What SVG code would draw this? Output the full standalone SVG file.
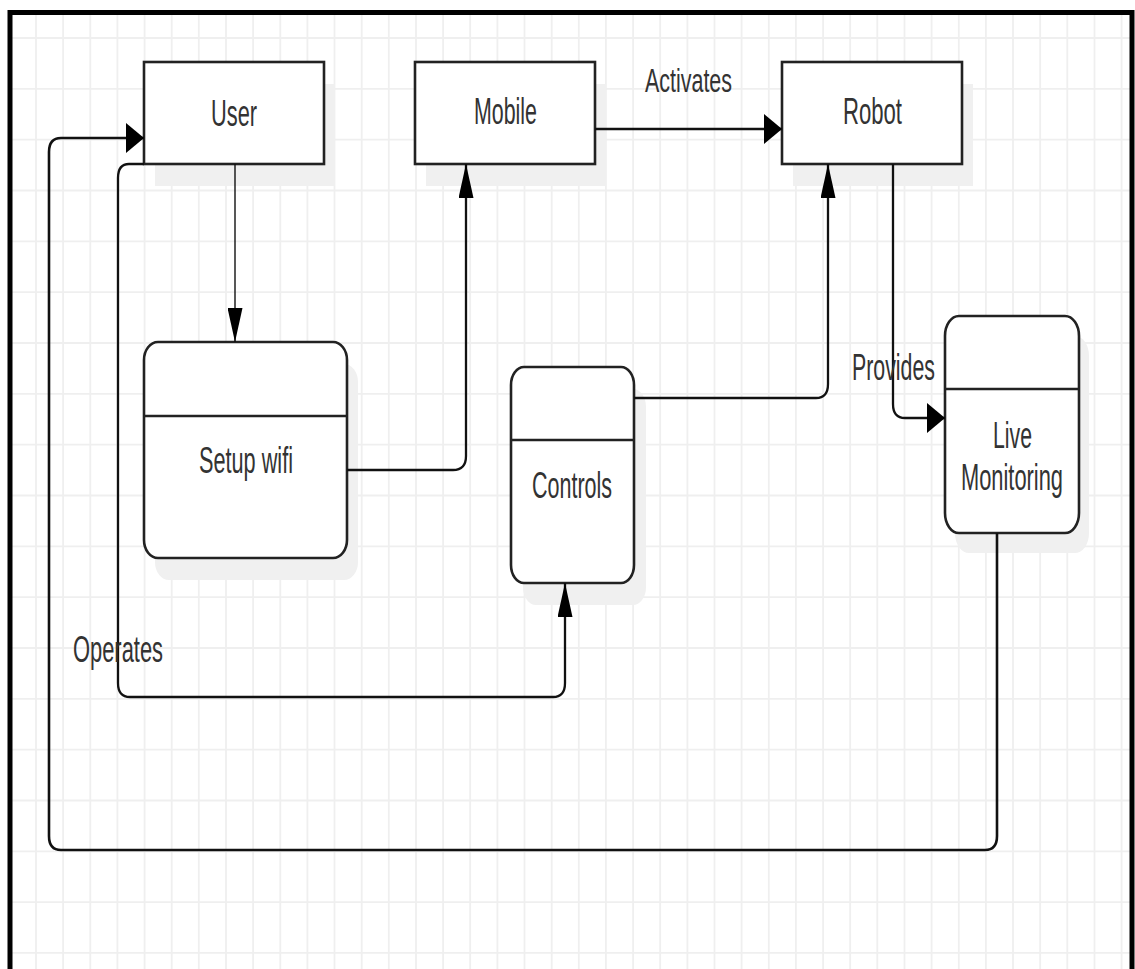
<svg xmlns="http://www.w3.org/2000/svg" width="1135" height="969" viewBox="0 0 1135 969">
<style>
.grid{stroke:#efefef;stroke-width:1.8;fill:none}
.box{fill:#fff;stroke:#222;stroke-width:2.6}
.div{stroke:#222;stroke-width:2.6}
.shadow{fill:#f0f0f0}
.lbl{font-family:"Liberation Sans",Arial,sans-serif;font-size:37px;fill:#333}
.conn{fill:none;stroke:#111;stroke-width:2.3}
</style>
<defs>
<marker id="av" viewBox="0 0 34 15" markerWidth="34" markerHeight="15" refX="34" refY="7.5" orient="auto" markerUnits="userSpaceOnUse"><path d="M0 0L34 7.5L0 15z" fill="#000"/></marker>
<marker id="ah" viewBox="0 0 18 30" markerWidth="18" markerHeight="30" refX="18" refY="15" orient="auto" markerUnits="userSpaceOnUse"><path d="M0 0L18 15L0 30z" fill="#000"/></marker>
</defs>
<rect width="1135" height="969" fill="#fff"/>
<path class="grid" d="M36 15V969M63.1 15V969M90.3 15V969M117.4 15V969M144.6 15V969M171.7 15V969M198.8 15V969M226 15V969M253.1 15V969M280.3 15V969M307.4 15V969M334.5 15V969M361.7 15V969M388.8 15V969M416 15V969M443.1 15V969M470.2 15V969M497.4 15V969M524.5 15V969M551.7 15V969M578.8 15V969M605.9 15V969M633.1 15V969M660.2 15V969M687.4 15V969M714.5 15V969M741.6 15V969M768.8 15V969M795.9 15V969M823.1 15V969M850.2 15V969M877.3 15V969M904.5 15V969M931.6 15V969M958.8 15V969M985.9 15V969M1013 15V969M1040.2 15V969M1067.3 15V969M1094.5 15V969M1121.6 15V969M12 38H1130M12 88.8H1130M12 139.7H1130M12 190.5H1130M12 241.3H1130M12 292.2H1130M12 343H1130M12 393.8H1130M12 444.6H1130M12 495.5H1130M12 546.3H1130M12 597.1H1130M12 648H1130M12 698.8H1130M12 749.6H1130M12 800.5H1130M12 851.3H1130M12 902.1H1130M12 952.9H1130"/>
<path d="M10 969V12.5H1132V969" fill="none" stroke="#000" stroke-width="5"/>

<g id="user">
<rect class="shadow" x="155" y="84" width="180" height="102"/>
<rect class="box" x="144" y="62" width="180" height="102"/>
<text class="lbl" x="211" y="126" textLength="46" lengthAdjust="spacingAndGlyphs">User</text>
</g>
<g id="mobile">
<rect class="shadow" x="426" y="84" width="180" height="102"/>
<rect class="box" x="415" y="62" width="180" height="102"/>
<text class="lbl" x="474" y="124" textLength="63" lengthAdjust="spacingAndGlyphs">Mobile</text>
</g>
<g id="robot">
<rect class="shadow" x="793" y="84" width="180" height="102"/>
<rect class="box" x="782" y="62" width="180" height="102"/>
<text class="lbl" x="843" y="124" textLength="59" lengthAdjust="spacingAndGlyphs">Robot</text>
</g>
<g id="setup-wifi">
<rect class="shadow" x="155" y="364" width="203" height="216" rx="14" ry="18"/>
<rect class="box" x="144" y="342" width="203" height="216" rx="14" ry="18"/>
<line class="div" x1="144" y1="416" x2="347" y2="416"/>
<text class="lbl" x="199" y="473" textLength="94" lengthAdjust="spacingAndGlyphs">Setup wifi</text>
</g>
<g id="controls">
<rect class="shadow" x="523" y="389" width="123" height="216" rx="13" ry="18"/>
<rect class="box" x="511" y="367" width="123" height="216" rx="13" ry="18"/>
<line class="div" x1="511" y1="440" x2="634" y2="440"/>
<text class="lbl" x="532" y="498" textLength="80" lengthAdjust="spacingAndGlyphs">Controls</text>
</g>
<g id="live-monitoring">
<rect class="shadow" x="955" y="336" width="134" height="217" rx="14" ry="20"/>
<rect class="box" x="945" y="316" width="134" height="217" rx="14" ry="20"/>
<line class="div" x1="945" y1="389" x2="1079" y2="389"/>
<text class="lbl" x="993" y="448" textLength="39" lengthAdjust="spacingAndGlyphs">Live</text>
<text class="lbl" x="961" y="490" textLength="102" lengthAdjust="spacingAndGlyphs">Monitoring</text>
</g>

<g id="connectors">
<path class="conn" style="stroke-width:1.4" d="M235 164V342" marker-end="url(#av)"/>
<path class="conn" d="M347 470H453Q466 470 466 456V164" marker-end="url(#av)"/>
<path class="conn" d="M595 129H782" marker-end="url(#ah)"/>
<path class="conn" d="M634 398H816Q828 398 828 384V164" marker-end="url(#av)"/>
<path class="conn" d="M893 164V404Q893 418 905 418H945" marker-end="url(#ah)"/>
<path class="conn" d="M144 164H129Q118 164 118 178V683Q118 697 130 697H553Q565 697 565 683V583" marker-end="url(#av)"/>
<path class="conn" style="stroke-width:2.6" d="M997 533V836Q997 850 985 850H61Q49 850 49 836V152Q49 138 61 138H144" marker-end="url(#ah)"/>
<text class="lbl" style="font-size:34px" x="645" y="92" textLength="87" lengthAdjust="spacingAndGlyphs">Activates</text>
<text class="lbl" x="852" y="380" textLength="83" lengthAdjust="spacingAndGlyphs">Provides</text>
<text class="lbl" x="73" y="662" textLength="90" lengthAdjust="spacingAndGlyphs">Operates</text>
</g>
</svg>
